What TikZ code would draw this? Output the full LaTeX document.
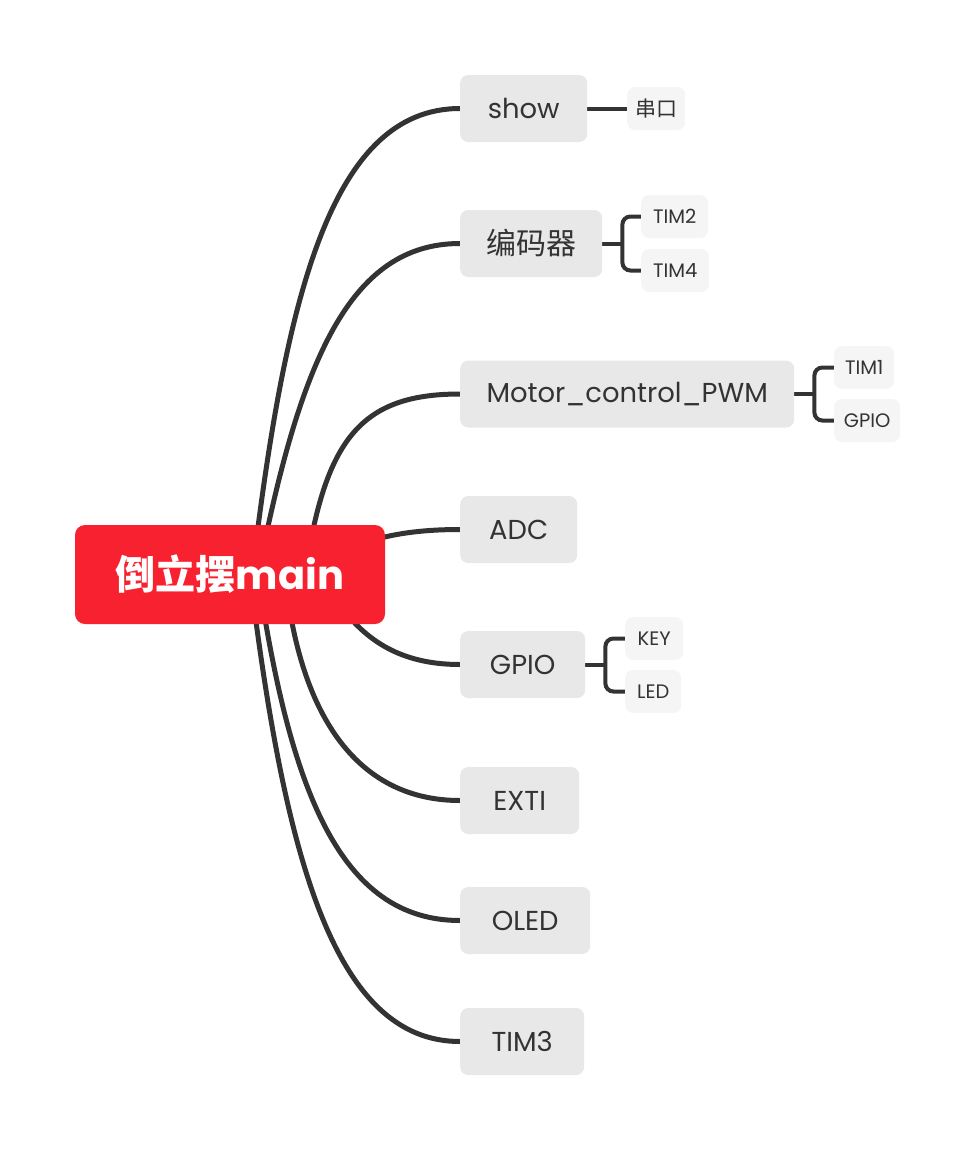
\documentclass[tikz,border=0pt]{standalone}
\usepackage{fontspec}
\setmainfont{Poppins}
\newfontfamily\cjk{Noto Sans CJK SC}
\usetikzlibrary{calc}
\pgfdeclarelayer{background}
\pgfsetlayers{background,main}
\definecolor{linec}{HTML}{333333}
\definecolor{txtc}{HTML}{333333}
\definecolor{boxa}{HTML}{E8E8E8}
\definecolor{boxb}{HTML}{F5F5F5}
\definecolor{rootred}{HTML}{F7212F}
\tikzset{
  branch/.style={draw=linec, line width=5pt},
  sub/.style={draw=linec, line width=4pt},
  lvone/.style={fill=boxa, rounded corners=8pt, text=txtc, minimum height=67pt, inner sep=0pt, anchor=west, font=\fontsize{27.4}{31}\selectfont},
  lvtwo/.style={fill=boxb, rounded corners=8pt, text=txtc, minimum height=43pt, inner sep=0pt, anchor=west, font=\fontsize{19.5}{22}\selectfont},
  rootbox/.style={fill=rootred, rounded corners=10pt, text=white, minimum width=310pt, minimum height=99pt, inner sep=0pt, font=\fontsize{40}{46}\selectfont\bfseries},
}
\newcommand\cjkone{\cjk\fontsize{30}{34}\selectfont}
\newcommand\cjktwo{\cjk\fontsize{21}{24}\selectfont}
\begin{document}
\begin{tikzpicture}[x=1pt,y=-1pt]
\useasboundingbox (0,0) rectangle (975,1149);
% level-one boxes
\node[lvone, minimum width=127pt] (show) at (460,108.5) {show};
\node[lvone, minimum width=142pt] (enc) at (460,243.5) {\cjkone 编码器};
\node[lvone, minimum width=334pt] (motor) at (460,394) {Motor\_control\_PWM};
\node[lvone, minimum width=117pt] (adc) at (460,529.5) {ADC};
\node[lvone, minimum width=125pt] (gpio) at (460,664.5) {GPIO};
\node[lvone, minimum width=119pt] (exti) at (460,800.5) {EXTI};
\node[lvone, minimum width=130pt] (oled) at (460,920.5) {OLED};
\node[lvone, minimum width=124pt] (tim3) at (460,1041.5) {TIM3};
% level-two boxes
\node[lvtwo, minimum width=58pt] (ck) at (627,108.5) {\cjktwo 串口};
\node[lvtwo, minimum width=67pt] (tim2) at (641,216.5) {TIM2};
\node[lvtwo, minimum width=68pt] (tim4) at (641,270.5) {TIM4};
\node[lvtwo, minimum width=60pt] (tim1) at (834,367.5) {TIM1};
\node[lvtwo, minimum width=66pt] (gpiob) at (834,420.5) {GPIO};
\node[lvtwo, minimum width=58pt] (key) at (625,638.5) {KEY};
\node[lvtwo, minimum width=56pt] (led) at (625,691.5) {LED};
% root
\node[rootbox] (root) at (230,574.5) {{\cjk\bfseries 倒立摆}main};
% hidden start points of branches (under the root)
\coordinate (s1) at (252,575);
\coordinate (s2) at (258,575);
\coordinate (s3) at (305,575);
\coordinate (s4) at (330,560);
\coordinate (s5) at (330,590);
\coordinate (s6) at (285,575);
\coordinate (s7) at (258,575);
\coordinate (s8) at (250,575);
\begin{pgfonlayer}{background}
\draw[branch] (s1) .. controls (285,300) and (330,108.5) .. (show.west);
\draw[branch] (s2) .. controls (300,360) and (350,243.5) .. (enc.west);
\draw[branch] (s3) .. controls (325,440) and (360,394) .. (motor.west);
\draw[branch] (s4) .. controls (360,540) and (400,529.5) .. (adc.west);
\draw[branch] (s5) .. controls (360,640) and (400,664.5) .. (gpio.west);
\draw[branch] (s6) .. controls (300,720) and (360,800.5) .. (exti.west);
\draw[branch] (s7) .. controls (290,790) and (340,920.5) .. (oled.west);
\draw[branch] (s8) .. controls (285,860) and (335,1041.5) .. (tim3.west);
% sub connectors
\draw[sub] (show.east) -- (ck.west);
\draw[sub] (enc.east) -- ($(enc.east)+(20,0)$);
\draw[sub, rounded corners=8pt] (tim2.west) -- ($(enc.east)+(20,-27)$) -- ($(enc.east)+(20,27)$) -- (tim4.west);
\draw[sub] (motor.east) -- ($(motor.east)+(20,0)$);
\draw[sub, rounded corners=8pt] (tim1.west) -- ($(motor.east)+(20,-26.5)$) -- ($(motor.east)+(20,26.5)$) -- (gpiob.west);
\draw[sub] (gpio.east) -- ($(gpio.east)+(20,0)$);
\draw[sub, rounded corners=8pt] (key.west) -- ($(gpio.east)+(20,-26)$) -- ($(gpio.east)+(20,27)$) -- (led.west);
\end{pgfonlayer}
\end{tikzpicture}
\end{document}
